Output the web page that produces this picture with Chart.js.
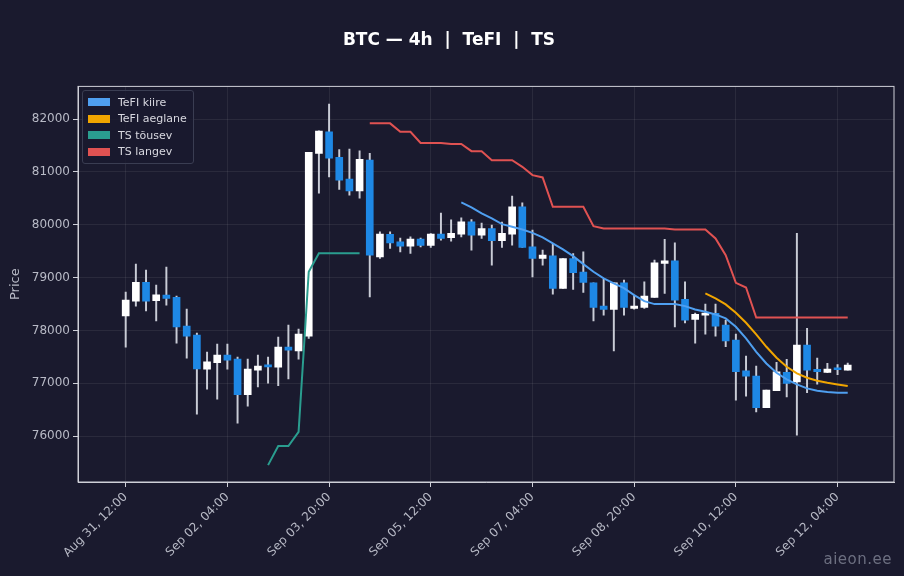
<!DOCTYPE html>
<html>
<head>
<meta charset="utf-8">
<script src="https://cdn.jsdelivr.net/npm/chart.js@4/dist/chart.umd.min.js"></script>
<style>
  html, body { margin: 0; padding: 0; background: #1a1a2e; }
  #wrap { position: relative; width: 904px; height: 576px; }
  #legend { position: absolute; left: 82px; top: 90px; border: 1px solid #3a3d52; border-radius: 3px;
    background: rgba(26,26,46,0.85); padding: 3px 6px 3px 5px; font: 11px "DejaVu Sans", sans-serif; color: #d8d8e0; }
  #legend div { display: flex; align-items: center; height: 16.5px; }
  #legend span.b { display: inline-block; width: 22px; height: 8px; margin-right: 8px; }
  #wm { position: absolute; right: 12px; bottom: 8px; font: 15px "DejaVu Sans", sans-serif; color: #6c6f80; letter-spacing: 0.5px; }
</style>
</head>
<body>
<div id="wrap">
  <canvas id="c" width="904" height="576"></canvas>
  <div id="legend">
    <div><span class="b" style="background:#4f9ff0"></span>TeFI kiire</div>
    <div><span class="b" style="background:#f0a500"></span>TeFI aeglane</div>
    <div><span class="b" style="background:#2a9d8f"></span>TS tõusev</div>
    <div><span class="b" style="background:#e05252"></span>TS langev</div>
  </div>
  <div id="wm">aieon.ee</div>
</div>
<script>
// 4h candles, index 0 = Aug 31 12:00
const opens  = [78276,78555,78909,78561,78668,78625,78081,77911,77267,77387,77532,77457,76783,77249,77330,77305,77684,77614,77892,81351,81760,81275,80864,80643,81224,79393,79819,79677,79596,79728,79609,79823,79754,79823,80056,79804,79930,79697,79823,80340,79583,79362,79412,78795,79362,79105,78901,78460,78397,78901,78417,78435,78625,79268,79318,78587,78208,78290,78322,78100,77816,77235,77135,76535,76857,77205,77027,77722,77261,77205,77270,77249];
const highs  = [78725,79255,79142,78858,79198,78650,78403,77949,77589,77741,77741,77495,77457,77533,77495,77873,78100,78025,81370,81779,82284,81426,81432,81400,81351,79866,79866,79747,79772,79747,79835,80220,80093,80132,80100,80030,79994,80050,80542,80416,79899,79520,79634,79362,79457,79488,78901,78965,78901,78952,78669,78920,79330,79723,79659,78920,78328,78498,78498,78195,77930,77514,77324,76870,77394,77451,79836,78038,77476,77375,77355,77381];
const lows   = [77684,78460,78371,78182,78479,77760,77476,76416,76889,76700,77267,76245,76567,76932,77003,76955,77084,77457,77849,80599,80908,80669,80561,80505,78636,79362,79551,79488,79458,79580,79570,79710,79690,79772,79520,79741,79236,79570,79615,79571,79014,79236,78687,78795,78776,78720,78182,78290,77614,78290,78400,78417,78625,78700,78068,78144,77760,77930,77892,77690,76681,76757,76459,76535,76857,76743,76018,76820,76984,77198,77160,77249];
const closes = [78574,78909,78555,78674,78606,78068,77892,77273,77406,77532,77438,76783,77267,77324,77310,77684,77627,77930,81370,81773,81262,80845,80643,81237,79425,79823,79658,79596,79728,79609,79823,79741,79836,80056,79804,79930,79697,79836,80340,79571,79362,79425,78795,79362,79091,78909,78435,78397,78901,78435,78460,78650,79280,79318,78574,78195,78303,78303,78081,77803,77217,77135,76535,76870,77217,76997,77722,77249,77217,77268,77255,77343];

// indicator lines: [index, value]
const tefiFast = [[33,80423],[34,80330],[35,80215],[36,80120],[37,80012],[38,79962],[39,79912],[40,79848],[41,79760],[42,79647],[43,79533],[44,79406],[45,79255],[46,79110],[47,78984],[48,78890],[49,78800],[50,78668],[51,78555],[52,78498],[53,78498],[54,78498],[55,78460],[56,78397],[57,78352],[58,78303],[59,78227],[60,78068],[61,77849],[62,77595],[63,77375],[64,77198],[65,77073],[66,76978],[67,76902],[68,76857],[69,76832],[70,76819],[71,76819]];
const tefiSlow = [[57,78700],[58,78606],[59,78492],[60,78334],[61,78144],[62,77924],[63,77690],[64,77482],[65,77312],[66,77186],[67,77103],[68,77047],[69,77009],[70,76978],[71,76946]];
const tsUp = [[14,75450],[15,75810],[16,75810],[17,76080],[18,79110],[19,79460],[20,79460],[21,79460],[22,79460],[23,79460]];
const tsDown = [[24,81920],[25,81920],[26,81920],[27,81760],[28,81760],[29,81550],[30,81550],[31,81550],[32,81530],[33,81530],[34,81394],[35,81394],[36,81224],[37,81224],[38,81224],[39,81097],[40,80940],[41,80896],[42,80340],[43,80340],[44,80340],[45,80340],[46,79975],[47,79930],[48,79930],[49,79930],[50,79930],[51,79930],[52,79930],[53,79930],[54,79912],[55,79912],[56,79912],[57,79912],[58,79741],[59,79425],[60,78901],[61,78813],[62,78245],[63,78245],[64,78245],[65,78245],[66,78245],[67,78245],[68,78245],[69,78245],[70,78245],[71,78245]];

const tickLabels = ['Aug 31, 12:00','Sep 02, 04:00','Sep 03, 20:00','Sep 05, 12:00','Sep 07, 04:00','Sep 08, 20:00','Sep 10, 12:00','Sep 12, 04:00'];

const UP = '#ffffff', DOWN = '#1e88e5', WICK = '#c9ccd6';
const wickData = highs.map((h, i) => ({x: i, y: [lows[i], h]}));
const bodyData = opens.map((o, i) => ({x: i, y: [Math.min(o, closes[i]), Math.max(o, closes[i])]}));
const bodyColors = opens.map((o, i) => closes[i] >= o ? UP : DOWN);
const pts = arr => arr.map(p => ({x: p[0], y: p[1]}));

const lineDs = (label, data, color) => ({
  type: 'line', label, data: pts(data), borderColor: color, borderWidth: 2,
  pointRadius: 0, tension: 0, fill: false, order: 0
});

new Chart(document.getElementById('c'), {
  type: 'bar',
  data: {
    datasets: [
      {label: 'wick', data: wickData, backgroundColor: WICK, barThickness: 1.3, grouped: false, order: 3},
      {label: 'body', data: bodyData, backgroundColor: bodyColors, barThickness: 7, grouped: false, minBarLength: 2, order: 2},
      lineDs('TS langev', tsDown, '#e05252'),
      lineDs('TS tõusev', tsUp, '#2a9d8f'),
      lineDs('TeFI aeglane', tefiSlow, '#f0a500'),
      lineDs('TeFI kiire', tefiFast, '#4f9ff0')
    ]
  },
  options: {
    responsive: false,
    animation: false,
    layout: {padding: {left: 4, right: 10, top: 0, bottom: 0}},
    plugins: {
      legend: {display: false},
      tooltip: {enabled: false},
      title: {
        display: true, text: 'BTC — 4h  |  TeFI  |  TS', color: '#ffffff',
        font: {family: 'DejaVu Sans', size: 17, weight: 'bold'},
        padding: {top: 30, bottom: 36}
      }
    },
    scales: {
      x: {
        type: 'linear', min: -4.69, max: 75.55, offset: false,
        afterBuildTicks: ax => { ax.ticks = tickLabels.map((_, k) => ({value: k * 10})); },
        ticks: {
          color: '#b8bac6', font: {family: 'DejaVu Sans', size: 12},
          maxRotation: 45, minRotation: 45, autoSkip: false,
          callback: v => tickLabels[v / 10]
        },
        grid: {offset: false, color: 'rgba(255,255,255,0.07)', drawTicks: true, tickColor: '#cfd0d8', tickLength: 5},
        border: {color: '#cfd0d8'},
        afterFit: ax => { ax.height = 94; }
      },
      y: {
        min: 75130, max: 82620,
        afterBuildTicks: ax => { ax.ticks = [76000,77000,78000,79000,80000,81000,82000].map(v => ({value: v})); },
        ticks: {color: '#b8bac6', font: {family: 'DejaVu Sans', size: 12}, callback: v => String(v)},
        title: {display: true, text: 'Price', color: '#b8bac6', font: {family: 'DejaVu Sans', size: 13}},
        grid: {color: 'rgba(255,255,255,0.07)', tickColor: '#cfd0d8', tickLength: 5},
        border: {color: '#cfd0d8'},
        afterFit: ax => { ax.width = 74; }
      }
    }
  },
  plugins: [{
    id: 'frame',
    afterDraw(chart) {
      const {ctx, chartArea: a} = chart;
      ctx.save();
      ctx.strokeStyle = '#cfd0d8'; ctx.lineWidth = 1;
      ctx.strokeRect(a.left, a.top, a.right - a.left, a.bottom - a.top);
      ctx.restore();
    }
  }]
});
</script>
</body>
</html>
